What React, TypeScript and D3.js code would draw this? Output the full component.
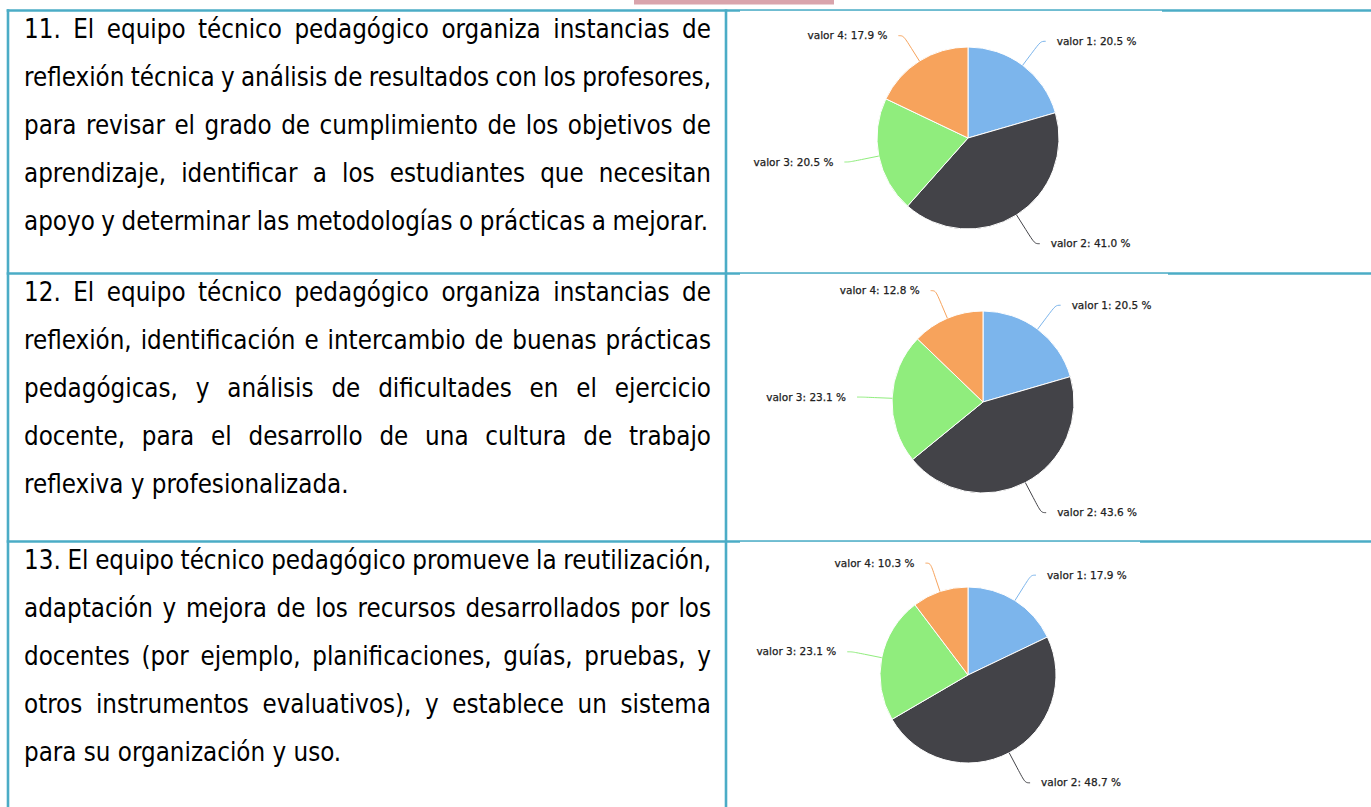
import React, { useRef, useEffect } from "react";
import * as d3 from "d3";

// pie data (Highcharts-style default palette)
const categories = ["valor 1", "valor 2", "valor 3", "valor 4"];
const values11 = [20.5, 41.0, 20.5, 17.9];
const values12 = [20.5, 43.6, 23.1, 12.8];
const values13 = [17.9, 48.7, 23.1, 10.3];
const sliceColors = ["#7cb5ec", "#434348", "#90ed7d", "#f7a35c"];

const lines11 = [
    "11. El equipo técnico pedagógico organiza instancias de",
    "reflexión técnica y análisis de resultados con los profesores,",
    "para revisar el grado de cumplimiento de los objetivos de",
    "aprendizaje, identificar a los estudiantes que necesitan",
    "apoyo y determinar las metodologías o prácticas a mejorar.",
];
const lines12 = [
    "12. El equipo técnico pedagógico organiza instancias de",
    "reflexión, identificación e intercambio de buenas prácticas",
    "pedagógicas, y análisis de dificultades en el ejercicio",
    "docente, para el desarrollo de una cultura de trabajo",
    "reflexiva y profesionalizada.",
];
const lines13 = [
    "13. El equipo técnico pedagógico promueve la reutilización,",
    "adaptación y mejora de los recursos desarrollados por los",
    "docentes (por ejemplo, planificaciones, guías, pruebas, y",
    "otros instrumentos evaluativos), y establece un sistema",
    "para su organización y uso.",
];

const W = 1371;
const H = 807;
const BORDER = "#4bacc6";
const TEXT_LEFT = 24;
const TEXT_RIGHT = 711;

const App: React.FC = () => {
    const ref = useRef<SVGSVGElement | null>(null);

    useEffect(() => {
        if (!ref.current) return;
        document.body.style.margin = "0";

        const svg = d3.select(ref.current);
        svg.selectAll("*").remove();

        const rows = [
            { top: 10.5, lines: lines11, values: values11, cx: 968, cy: 138, r: 91, img: [740, 1162], justifyLast: true, lastRight: 708 },
            { top: 273.5, lines: lines12, values: values12, cx: 983, cy: 402, r: 91, img: [740, 1168], justifyLast: false, lastRight: 0 },
            { top: 541.5, lines: lines13, values: values13, cx: 968, cy: 675, r: 88, img: [740, 1140], justifyLast: false, lastRight: 0 },
        ];

        svg.append("rect").attr("width", W).attr("height", H).attr("fill", "#fff");
        // piece of the page above
        svg.append("rect").attr("x", 634).attr("y", 0).attr("width", 200).attr("height", 4.5).attr("fill", "#d9a4ac");

        // table borders
        const borders = svg.append("g").attr("stroke", BORDER).attr("stroke-width", 2.6);
        rows.forEach(row => {
            borders.append("line").attr("x1", 6.7).attr("x2", W).attr("y1", row.top).attr("y2", row.top);
        });
        [8, 726].forEach(x => {
            borders.append("line").attr("x1", x).attr("x2", x).attr("y1", 9.2).attr("y2", H);
        });

        const pie = d3.pie<number>().sort(null).value(d => d);

        rows.forEach(row => {
            // chart picture background, it sits a bit over the border
            svg.append("rect")
                .attr("x", row.img[0])
                .attr("y", row.top + 0.3)
                .attr("width", row.img[1] - row.img[0])
                .attr("height", 60)
                .attr("fill", "#fff");

            const arc = d3.arc<d3.PieArcDatum<number>>().innerRadius(0).outerRadius(row.r);
            const arcs = pie(row.values);
            const pg = svg.append("g").attr("transform", `translate(${row.cx},${row.cy})`);

            pg.selectAll("path.slice")
                .data(arcs)
                .enter()
                .append("path")
                .attr("class", "slice")
                .attr("d", arc as any)
                .attr("fill", (_, i) => sliceColors[i])
                .attr("stroke", "#fff")
                .attr("stroke-width", 1)
                .attr("stroke-linejoin", "round");

            arcs.forEach((d, i) => {
                const a = (d.startAngle + d.endAngle) / 2;
                const sx = Math.sin(a);
                const sy = -Math.cos(a);
                const left = sx < 0;
                // labels below the centre sit a little lower
                const dist = sy > 0.5 ? 34 : 30;
                const ex = row.r * sx, ey = row.r * sy;
                const bx = (row.r + dist / 2) * sx, by = (row.r + dist / 2) * sy;
                const lx = (row.r + dist) * sx, ly = (row.r + dist) * sy;
                const endX = lx + (left ? -5 : 5);

                pg.append("path")
                    .attr("d", `M${endX},${ly}C${lx},${ly} ${2 * bx - ex},${2 * by - ey} ${bx},${by}L${ex},${ey}`)
                    .attr("fill", "none")
                    .attr("stroke", sliceColors[i])
                    .attr("stroke-width", 1);

                pg.append("text")
                    .attr("x", endX + (left ? -11 : 11))
                    .attr("y", ly)
                    .attr("dy", "0.35em")
                    .attr("text-anchor", left ? "end" : "start")
                    .attr("font-family", "'DejaVu Sans', sans-serif")
                    .attr("font-size", 10.5)
                    .attr("fill", "#222")
                    .attr("stroke", "#222")
                    .attr("stroke-width", 0.25)
                    .text(`${categories[i]}: ${d.data.toFixed(1)} %`);
            });
        });

        // justified paragraph text
        const tg = svg.append("g")
            .attr("font-family", "'DejaVu Sans Condensed', 'DejaVu Sans', sans-serif")
            .attr("font-stretch", "condensed")
            .attr("font-size", 25.7)
            .attr("fill", "#000");

        rows.forEach(row => {
            row.lines.forEach((line, i) => {
                const y = row.top + 27 + i * 48.2;
                const isLast = i === row.lines.length - 1;
                if (isLast && !row.justifyLast) {
                    tg.append("text").attr("x", TEXT_LEFT).attr("y", y).text(line);
                    return;
                }
                const words = line.split(" ");
                const nodes = words.map(w => tg.append("text").attr("y", y).text(w));
                const widths = nodes.map(n => (n.node() as SVGTextElement).getComputedTextLength());
                const right = isLast ? row.lastRight : TEXT_RIGHT;
                const gap = (right - TEXT_LEFT - d3.sum(widths)) / (words.length - 1);
                let x = TEXT_LEFT;
                nodes.forEach((n, k) => {
                    n.attr("x", x);
                    x += widths[k] + gap;
                });
            });
        });
    }, []);

    return <svg ref={ref} width={W} height={H} style={{ display: "block" }} />;
};

export default App;
